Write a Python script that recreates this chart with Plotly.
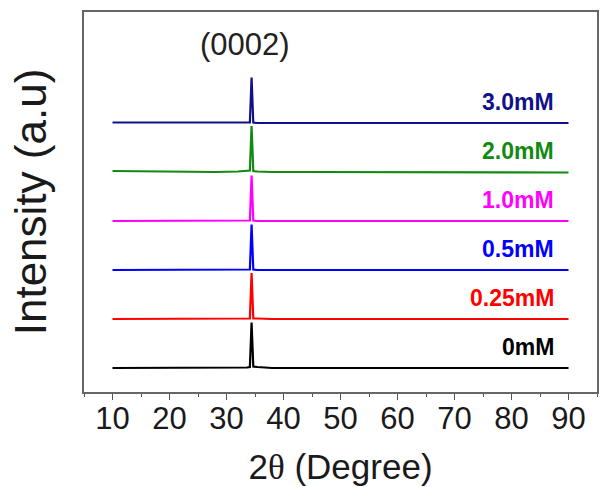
import plotly.graph_objects as go

# 2-theta positions (degrees)
two_theta = [10, 16, 22, 28, 32, 33.6, 34.1, 34.4, 34.7, 35.4, 38, 44, 50, 56, 62, 68, 74, 80, 86, 90]

# normalised intensities (baseline 0, (0002) peak ~0.93)
i_0mM   = [0.00, 0.00, 0.00, 0.00, 0.00, 0.01, 0.02, 0.93, 0.03, 0.02, 0.00, 0.00, 0.00, 0.00, 0.01, 0.00, 0.00, 0.01, 0.00, 0.00]
i_025mM = [0.00, 0.00, 0.00, 0.00, 0.00, 0.00, 0.01, 0.94, 0.01, 0.01, 0.00, 0.00, 0.00, 0.00, 0.00, 0.00, 0.00, 0.00, 0.00, 0.00]
i_05mM  = [0.00, 0.00, 0.00, 0.00, 0.00, 0.01, 0.01, 0.93, 0.01, 0.00, 0.00, 0.00, 0.00, 0.00, 0.00, 0.00, 0.00, 0.00, 0.00, 0.00]
i_10mM  = [0.00, 0.00, 0.00, 0.00, 0.00, 0.00, 0.01, 0.93, 0.01, 0.00, 0.00, 0.00, 0.00, 0.00, 0.00, 0.00, 0.00, 0.00, 0.00, 0.00]
i_20mM  = [0.02, 0.01, 0.00, 0.00, 0.01, 0.02, 0.03, 0.94, 0.02, 0.01, 0.00, 0.00, 0.00, 0.00, -0.01, 0.00, 0.00, -0.01, -0.01, -0.01]
i_30mM  = [0.01, 0.01, 0.00, 0.00, 0.00, 0.01, 0.01, 0.93, 0.01, 0.00, 0.00, 0.00, 0.00, 0.00, 0.00, 0.00, 0.00, 0.00, 0.00, 0.00]

labels  = ["0mM", "0.25mM", "0.5mM", "1.0mM", "2.0mM", "3.0mM"]
offsets = [0, 1, 2, 3, 4, 5]
colors  = ["#000000", "#ff0000", "#0000ff", "#ff00ff", "#118a11", "#10108a"]
series  = [i_0mM, i_025mM, i_05mM, i_10mM, i_20mM, i_30mM]

x_ticks = [10, 20, 30, 40, 50, 60, 70, 80, 90]

fig = go.Figure()
for lab, off, col, ys in zip(labels, offsets, colors, series):
    fig.add_trace(go.Scatter(x=two_theta, y=[v + off for v in ys], mode="lines",
                             line=dict(color=col, width=2.2), name=lab, showlegend=False))
    fig.add_annotation(x=87.8, y=off + 0.42, text="<b>%s</b>" % lab, showarrow=False,
                       xanchor="right", yanchor="middle",
                       font=dict(family="Liberation Sans, Arial", size=23, color=col))

fig.add_annotation(x=33.3, y=6.6, text="(0002)", showarrow=False, xanchor="center", yanchor="middle",
                   font=dict(family="Liberation Sans, Arial", size=31, color="#222222"))

fig.update_layout(
    width=611, height=487,
    margin=dict(l=84, r=14, t=12, b=95),
    paper_bgcolor="white", plot_bgcolor="white",
    font=dict(family="Liberation Sans, Arial", color="#222222"),
)
fig.update_xaxes(
    range=[5, 95], tickvals=x_ticks, ticktext=[str(t) for t in x_ticks],
    ticks="outside", ticklen=6, tickwidth=1.2, tickcolor="#555555",
    minor=dict(ticks="outside", ticklen=3, tickwidth=1, tickcolor="#555555", dtick=5, tick0=5),
    showline=True, linecolor="#666666", linewidth=1.5, mirror=True,
    showgrid=False, zeroline=False, automargin=False,
    ticklabelstandoff=-8,
    tickfont=dict(size=31, color="#1a1a1a"),
    title=dict(text="2<span style='font-family:Liberation Serif, Times New Roman'>θ</span> (Degree)",
               font=dict(size=35, color="#1a1a1a"), standoff=26),
)
fig.update_yaxes(
    range=[-0.49, 7.265], showticklabels=False, ticks="",
    showline=True, linecolor="#666666", linewidth=1.5, mirror=True,
    showgrid=False, zeroline=False, automargin=False,
    title=dict(text="Intensity (a.u)", font=dict(size=44, color="#1a1a1a"), standoff=22),
)

fig.write_html("out.html")
